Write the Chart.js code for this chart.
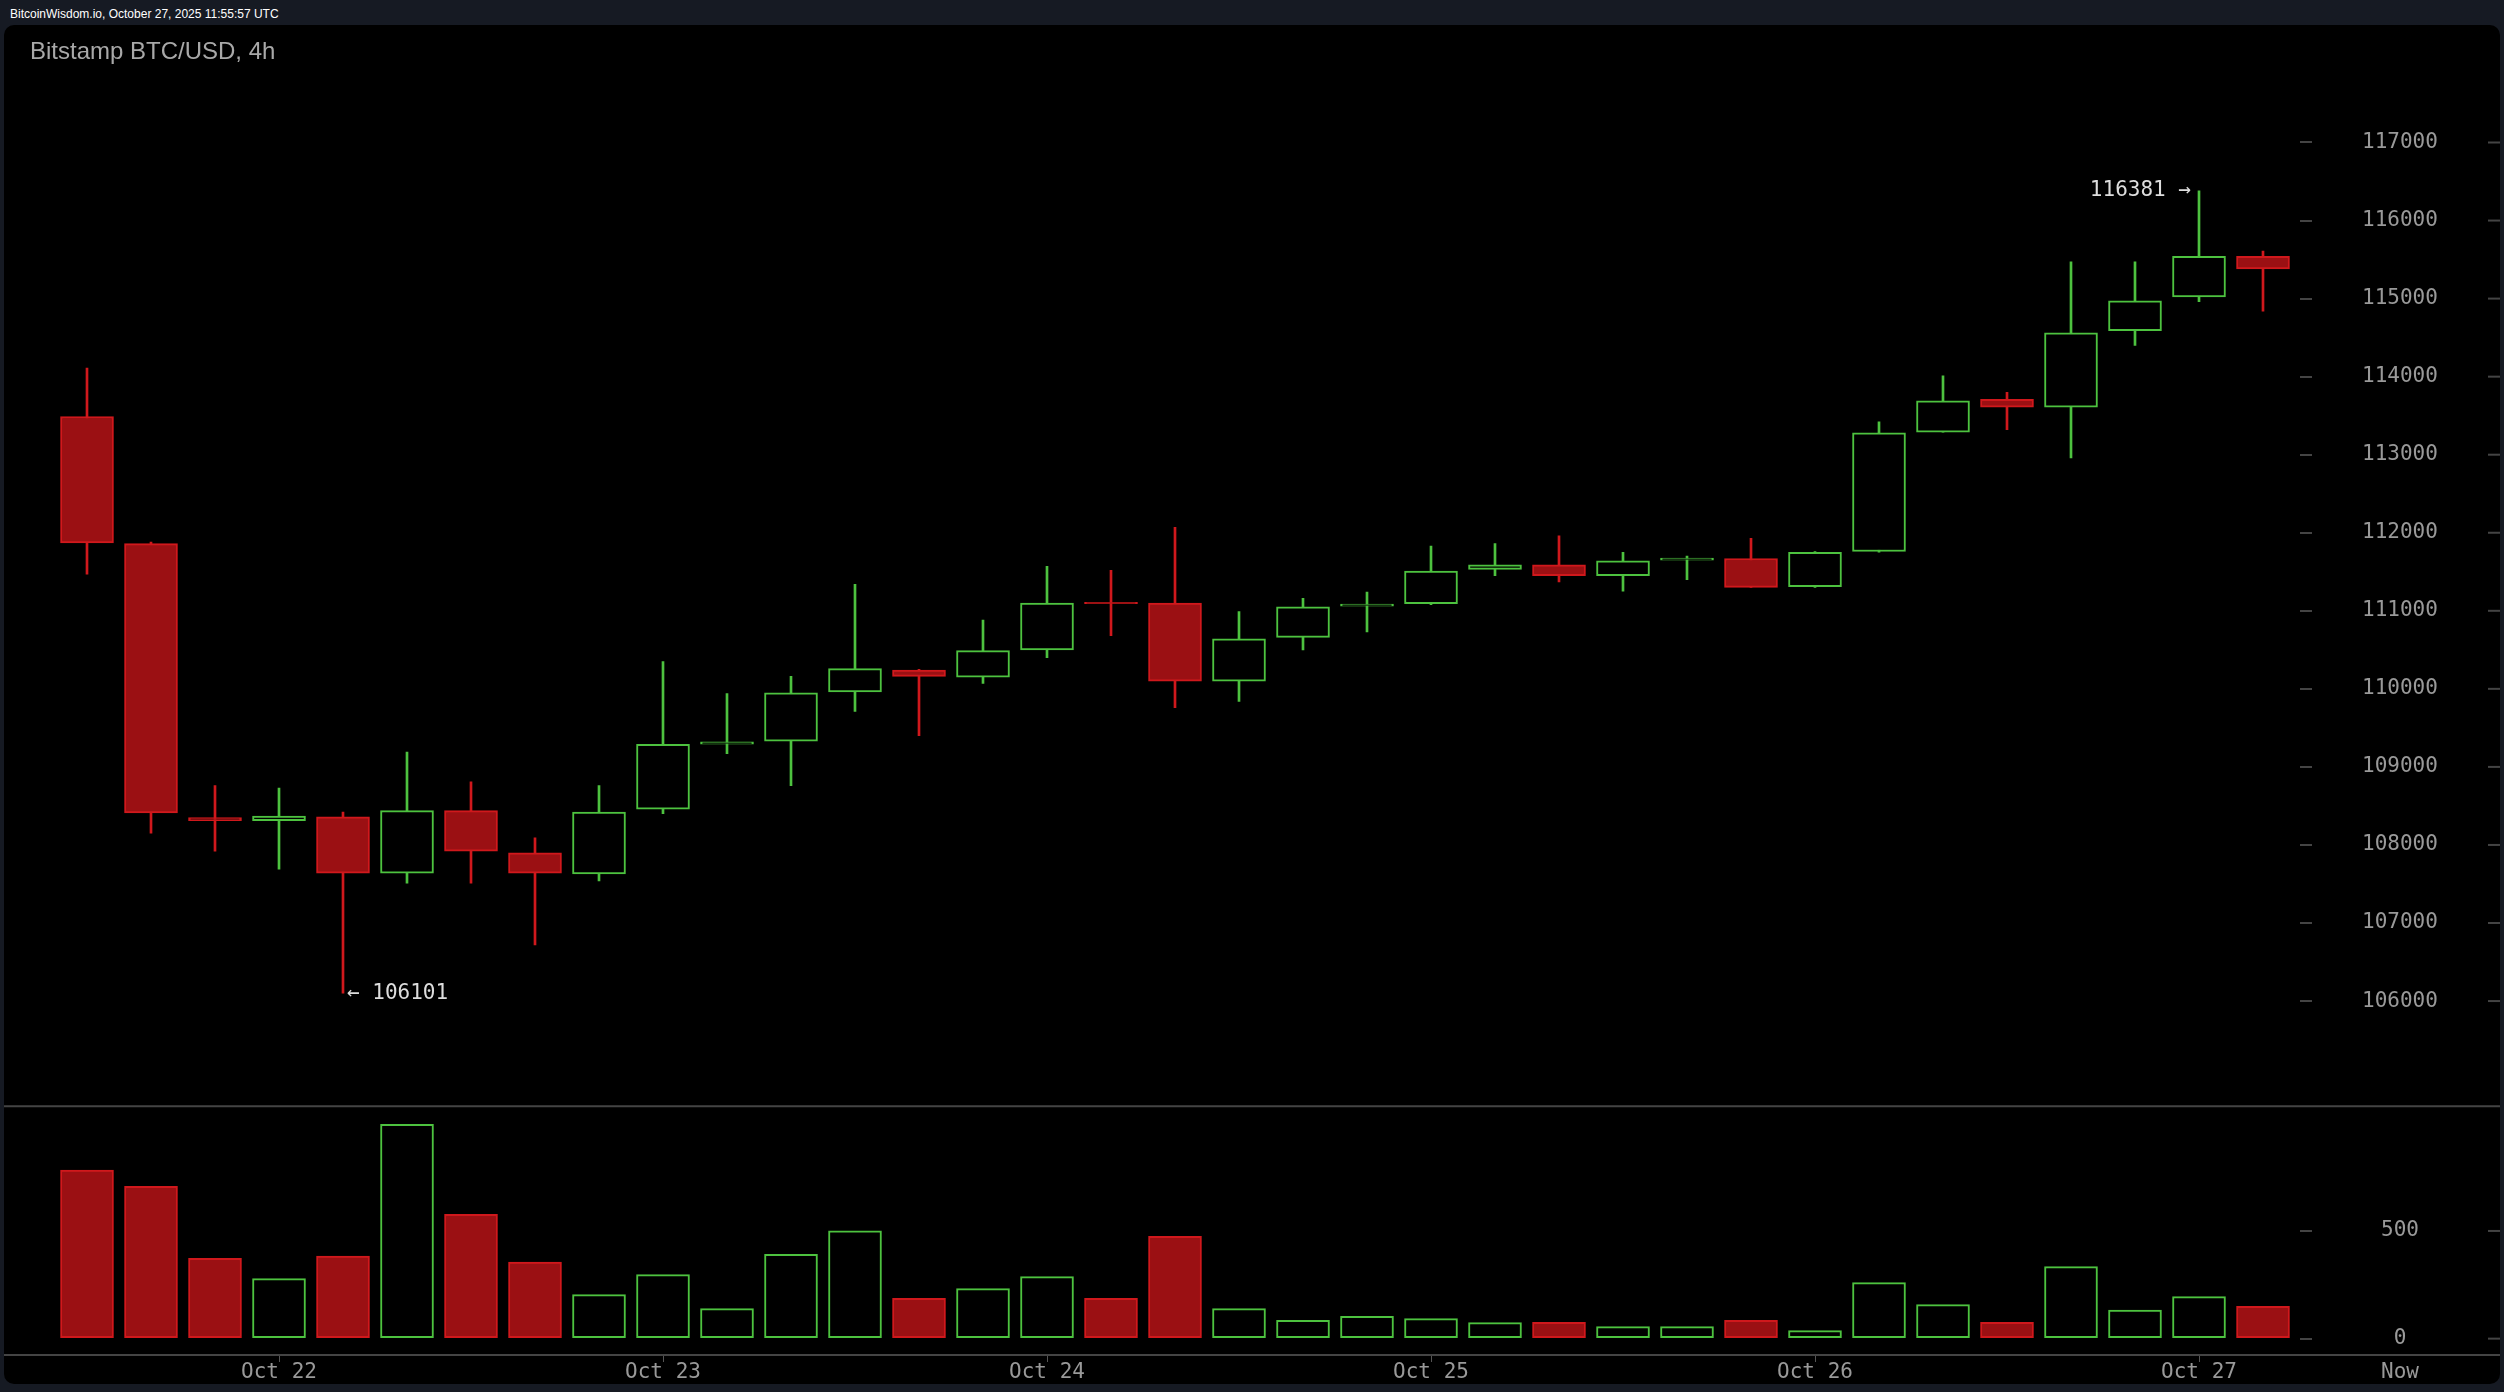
<!DOCTYPE html>
<html>
<head>
<meta charset="utf-8">
<script src="https://cdn.jsdelivr.net/npm/chart.js@4.4.1/dist/chart.umd.min.js"></script>
<style>
  html, body { margin: 0; padding: 0; }
  body { width: 2504px; height: 1392px; background: #161a23; overflow: hidden; position: relative; }
  .stamp { position: absolute; left: 10px; top: 7px; font: 12px/14px "Liberation Sans", Arial, sans-serif; color: #fff; white-space: nowrap; }
  .panel { position: absolute; left: 4px; top: 25px; width: 2496px; height: 1359px; background: #000; border-radius: 10px; overflow: hidden; }
  .title { position: absolute; left: 26px; top: 12px; font: 24px/28px "Liberation Sans", Arial, sans-serif; color: #a8a8a8; white-space: nowrap; }
  #price { position: absolute; left: 0; top: 0; }
  #volume { position: absolute; left: 0; top: 1080px; }
</style>
</head>
<body>
<div class="stamp">BitcoinWisdom.io, October 27, 2025 11:55:57 UTC</div>
<div class="panel">
  <canvas id="price" width="2496" height="1080"></canvas>
  <canvas id="volume" width="2496" height="279"></canvas>
  <div class="title">Bitstamp BTC/USD, 4h</div>
</div>
<script>
// 4h candles, Oct 21 12:00 .. Oct 27
const open  = [113490, 111860, 108350, 108310, 108360, 107640, 108440, 107900, 107630, 108460,
               109290, 109330, 109960, 110240, 110150, 110500, 111110, 111100, 110100, 110660,
               111060, 111090, 111530, 111590, 111450, 111650, 111670, 111310, 111760, 113290,
               113710, 113610, 114590, 115020, 115540];
const high  = [114110, 111880, 108760, 108730, 108420, 109190, 108810, 108090, 108760, 110350,
               109940, 110160, 111340, 110250, 110880, 111570, 111520, 112070, 110990, 111160,
               111240, 111830, 111860, 111960, 111750, 111700, 111930, 111760, 113420, 114010,
               113800, 115470, 115470, 116381, 115610];
const low   = [111470, 108150, 107920, 107690, 106101, 107510, 107510, 106720, 107540, 108400,
               109170, 108760, 109710, 109400, 110070, 110400, 110680, 109760, 109840, 110500,
               110730, 111080, 111450, 111370, 111250, 111400, 111300, 111300, 111750, 113290,
               113320, 112960, 114400, 114960, 114840];
const close = [111870, 108410, 108310, 108370, 107640, 108440, 107920, 107640, 108420, 109290,
               109320, 109950, 110260, 110160, 110490, 111100, 111090, 110100, 110640, 111050,
               111085, 111510, 111590, 111450, 111640, 111675, 111300, 111750, 113280, 113690,
               113610, 114560, 114970, 115540, 115380];
const volume = [783, 707, 373, 279, 383, 995, 577, 355, 204, 297,
                139, 392, 501, 187, 232, 288, 187, 475, 139, 85,
                104, 93, 74, 76, 56, 56, 85, 37, 260, 158,
                76, 334, 132, 195, 150];

const dayTickIdx = [3, 9, 15, 21, 27, 33];
const dayLabels  = ["Oct 22", "Oct 23", "Oct 24", "Oct 25", "Oct 26", "Oct 27"];
const priceTicks = [106000, 107000, 108000, 109000, 110000, 111000, 112000, 113000, 114000, 115000, 116000, 117000];
const volumeTicks = [0, 500];

const RED = "#d0181c", RED_FILL = "#9b1013", GREEN = "#4dc23f";
const MONO = "DejaVu Sans Mono";

const up = open.map((o, i) => close[i] >= o);
const idx = open.map((_, i) => i);

// x range so each 4h slot is 64px wide
const X_MIN = -83 / 64, X_MAX = X_MIN + 2296 / 64;

const axisRight = (width, padTicks) => ({
  position: "right",
  border: { display: false },
  grid: { drawOnChartArea: false, tickLength: 12, color: "#444", lineWidth: 2 },
  ticks: { color: "#999", font: { family: MONO, size: 21 }, padding: padTicks, crossAlign: "center",
           callback: v => String(v) },
  afterFit: s => { s.width = width; s.paddingTop = 0; s.paddingBottom = 0; }
});

const priceMarks = {
  id: "priceMarks",
  afterDraw(chart) {
    const { ctx, scales: { x, y } } = chart;
    ctx.save();
    ctx.strokeStyle = "#444";
    ctx.lineWidth = 2;
    y.ticks.forEach(t => {
      const py = y.getPixelForValue(t.value);
      ctx.beginPath(); ctx.moveTo(y.right, py); ctx.lineTo(y.right + 12, py); ctx.stroke();
    });
    // max / min markers
    const hi = Math.max(...high), lo = Math.min(...low);
    const iHi = high.indexOf(hi), iLo = low.indexOf(lo);
    ctx.font = "21px " + MONO;
    ctx.fillStyle = "#ddd";
    ctx.textBaseline = "middle";
    ctx.textAlign = "right";
    ctx.fillText(hi + " \u2192", x.getPixelForValue(iHi) - 8, y.getPixelForValue(hi));
    ctx.textAlign = "left";
    ctx.fillText("\u2190 " + lo, x.getPixelForValue(iLo) + 4, y.getPixelForValue(lo));
    ctx.restore();
  }
};

new Chart(document.getElementById("price"), {
  type: "bar",
  data: {
    datasets: [
      {
        data: idx.map(i => ({ x: i, y: [open[i], close[i]] })),
        backgroundColor: up.map(u => u ? "#000" : RED_FILL),
        borderColor: up.map(u => u ? GREEN : RED),
        borderWidth: 2,
        borderSkipped: false,
        barThickness: 53,
        grouped: false,
        order: 0
      },
      {
        data: idx.map(i => ({ x: i, y: [low[i], high[i]] })),
        backgroundColor: up.map(u => u ? GREEN : RED),
        borderWidth: 0,
        barThickness: 2,
        grouped: false,
        order: 1
      }
    ]
  },
  options: {
    responsive: false,
    animation: false,
    devicePixelRatio: 1,
    layout: { padding: { left: 0, right: 12, top: 39.45, bottom: 25.9 } },
    plugins: { legend: { display: false }, tooltip: { enabled: false } },
    scales: {
      x: { type: "linear", min: X_MIN, max: X_MAX, offset: false, grid: { offset: false }, display: false },
      y: Object.assign(axisRight(188, 50), {
        min: 105000, max: 118000,
        afterBuildTicks: s => { s.ticks = priceTicks.map(v => ({ value: v })); }
      })
    }
  },
  plugins: [priceMarks]
});

const volumeMarks = {
  id: "volumeMarks",
  afterDraw(chart) {
    const { ctx, chartArea, scales: { x, y } } = chart;
    ctx.save();
    ctx.strokeStyle = "#444";
    ctx.lineWidth = 2;
    ctx.beginPath(); ctx.moveTo(0, 1.3); ctx.lineTo(chart.width, 1.3); ctx.stroke();
    ctx.beginPath(); ctx.moveTo(0, chartArea.bottom); ctx.lineTo(chart.width, chartArea.bottom); ctx.stroke();
    y.ticks.forEach(t => {
      const py = y.getPixelForValue(t.value);
      ctx.beginPath(); ctx.moveTo(y.right, py); ctx.lineTo(y.right + 12, py); ctx.stroke();
    });
    ctx.font = "21px " + MONO;
    ctx.fillStyle = "#999";
    ctx.textAlign = "center";
    ctx.textBaseline = "middle";
    ctx.fillText("Now", y.left + 100, x.top + 17.5);
    ctx.restore();
  }
};

new Chart(document.getElementById("volume"), {
  type: "bar",
  data: {
    datasets: [{
      data: idx.map(i => ({ x: i, y: volume[i] })),
      backgroundColor: up.map(u => u ? "#000" : RED_FILL),
      borderColor: up.map(u => u ? GREEN : RED),
      borderWidth: 2,
      borderSkipped: false,
      barThickness: 53
    }]
  },
  options: {
    responsive: false,
    animation: false,
    devicePixelRatio: 1,
    layout: { padding: { left: 0, right: 12, top: 7.5, bottom: 0 } },
    plugins: { legend: { display: false }, tooltip: { enabled: false } },
    scales: {
      x: {
        type: "linear", min: X_MIN, max: X_MAX, offset: false,
        border: { display: false },
        grid: { drawOnChartArea: false, offset: false, tickLength: 7, color: "#555", lineWidth: 1 },
        ticks: { color: "#999", font: { family: MONO, size: 21, lineHeight: 1 }, padding: 0,
                 autoSkip: false, maxRotation: 0, minRotation: 0,
                 callback: v => dayLabels[dayTickIdx.indexOf(v)] },
        afterBuildTicks: s => { s.ticks = dayTickIdx.map(v => ({ value: v })); },
        afterFit: s => { s.height = 29; s.paddingLeft = 0; s.paddingRight = 0; }
      },
      y: Object.assign(axisRight(188, 69), {
        min: -76, max: 1050,
        afterBuildTicks: s => { s.ticks = volumeTicks.map(v => ({ value: v })); }
      })
    }
  },
  plugins: [volumeMarks]
});
</script>
</body>
</html>
